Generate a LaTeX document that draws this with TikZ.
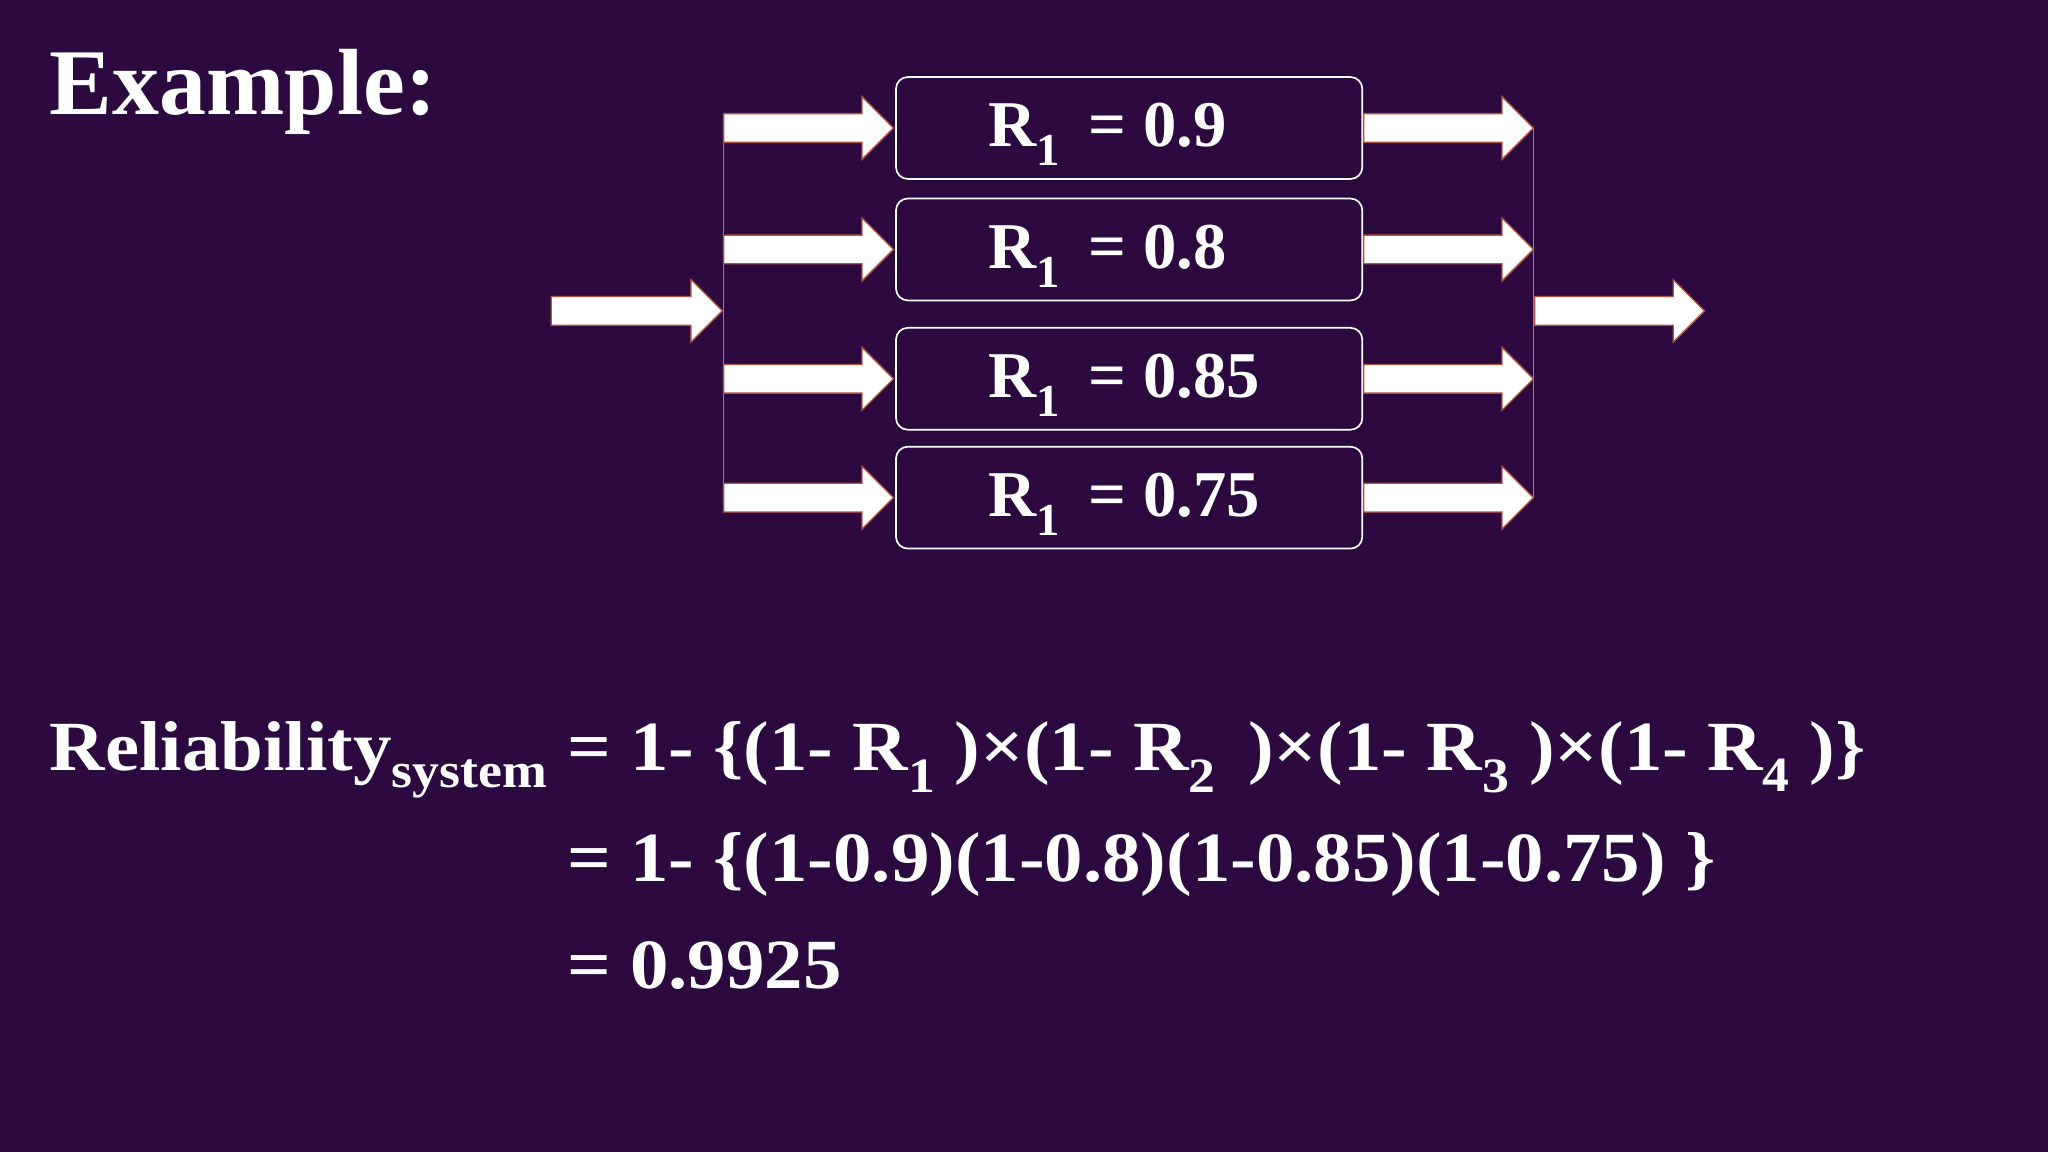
\documentclass[tikz,border=0pt]{standalone}
\usepackage{fontspec}
\setmainfont{Liberation Serif}
\definecolor{bg}{HTML}{2C0A40}
\definecolor{edge}{HTML}{B4533F}
\definecolor{vline}{HTML}{7E7EC8}
\begin{document}
\begin{tikzpicture}[x=1pt,y=-1pt,
  blk/.style={draw=white,line width=1.3pt,rounded corners=9pt,minimum width=357pt,minimum height=78pt,inner sep=0pt},
  lbl/.style={text=white,font=\bfseries\fontsize{50}{56}\selectfont,xscale=1.02},
  eq/.style={text=white,font=\bfseries\fontsize{54}{60}\selectfont,anchor=base west,inner sep=0pt,xscale=1.09},
  fat/.style={fill=white,draw=edge,line width=1pt}]
\fill[bg] (0,0) rectangle (1568,882);
\useasboundingbox (0,0) rectangle (1568,882);
\newcommand{\fatarrow}[3]{% x1, x2, y
  \filldraw[fat] (#1,#3-11) -- (#2-24,#3-11) -- (#2-24,#3-24) -- (#2,#3) -- (#2-24,#3+24) -- (#2-24,#3+11) -- (#1,#3+11) -- cycle;}
\node[text=white,font=\bfseries\fontsize{72}{80}\selectfont,anchor=base west,inner sep=0pt] (ex) at (38,88) {Example:};
\node[blk] (b1) at (864.5,98) {};
\node[blk] (b2) at (864.5,191) {};
\node[blk] (b3) at (864.5,290) {};
\node[blk] (b4) at (864.5,381) {};
\foreach \n/\v in {b1/0.9,b2/0.8,b3/0.85,b4/0.75}{
  \node[lbl,anchor=west] at ([xshift=68pt,yshift=-5pt]\n.west) {R\textsubscript{1}\, = \v};
}
\draw[vline,line width=0.6pt] (554,98) -- (554,381);
\draw[vline,line width=0.6pt] (1174,98) -- (1174,381);
\foreach \y in {98,191,290,381}{
  \fatarrow{554}{684}{\y}
  \fatarrow{1044}{1174}{\y}
}
\fatarrow{422}{553}{238}
\fatarrow{1175}{1305}{238}
\node[eq] (l0) at (38,590) {Reliability\textsubscript{system}};
\node[eq] (l1) at (434,590) {= 1- \{(1- R\textsubscript{1} )×(1- R\textsubscript{2}\, )×(1- R\textsubscript{3} )×(1- R\textsubscript{4} )\}};
\node[eq] (l2) at (434,675) {= 1- \{(1-0.9)(1-0.8)(1-0.85)(1-0.75) \}};
\node[eq] (l3) at (434,757) {= 0.9925};
\end{tikzpicture}
\end{document}
